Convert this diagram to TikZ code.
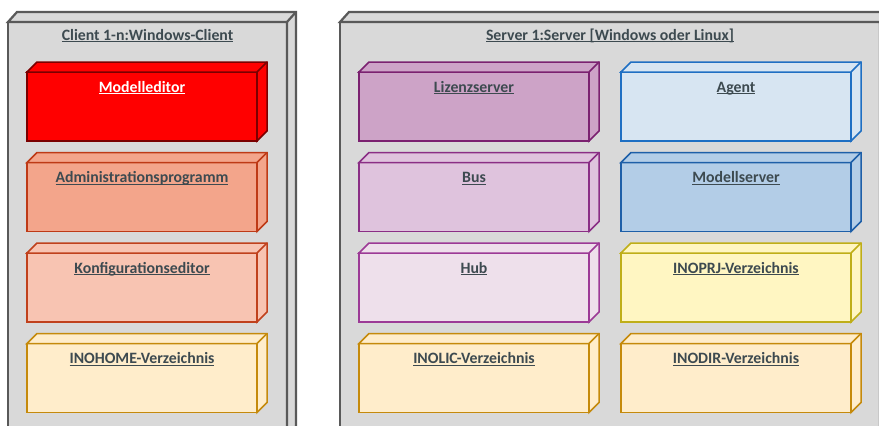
\documentclass[tikz,border=0pt]{standalone}
\usepackage{fontspec}
\setmainfont{Carlito}
\usetikzlibrary{calc}
\definecolor{outerfill}{HTML}{D9D9D9}
\definecolor{outerdraw}{HTML}{595959}
\definecolor{txt}{HTML}{3D4A50}
\definecolor{redfill}{HTML}{FF0000}
\definecolor{reddraw}{HTML}{7A0000}
\definecolor{admfill}{HTML}{F3A58B}
\definecolor{admdraw}{HTML}{BE3A16}
\definecolor{konffill}{HTML}{F8C4B2}
\definecolor{konfdraw}{HTML}{C0411C}
\definecolor{dirfill}{HTML}{FFEDCB}
\definecolor{dirdraw}{HTML}{C58A0C}
\definecolor{lizfill}{HTML}{CDA3C7}
\definecolor{lizdraw}{HTML}{7B2170}
\definecolor{busfill}{HTML}{DFC3DD}
\definecolor{busdraw}{HTML}{8A2E85}
\definecolor{hubfill}{HTML}{EEE0EB}
\definecolor{hubdraw}{HTML}{9C3A96}
\definecolor{agfill}{HTML}{D7E5F2}
\definecolor{agdraw}{HTML}{1F6FC3}
\definecolor{msfill}{HTML}{B3CDE7}
\definecolor{msdraw}{HTML}{1E5FA8}
\definecolor{prjfill}{HTML}{FFF6C2}
\definecolor{prjdraw}{HTML}{BFAE18}
\newcommand{\ulbox}[1]{\setbox0=\hbox{#1}\rlap{\rule[-2.4pt]{\wd0}{1.1pt}}\box0}
\tikzset{
  face/.style={rectangle, inner sep=0pt, outer sep=0pt, line width=1.5pt, line join=miter},
  lbl/.style={anchor=base, inner sep=0pt, font=\fontsize{15.8}{18}\selectfont\bfseries},
  outerface/.style={rectangle, inner sep=0pt, outer sep=0pt, line width=2.2pt, draw=outerdraw, fill=outerfill},
}
% name, x, ytop, fill, draw, label, textcolor
\newcommand{\dbox}[7]{%
  \node[face, fill=#4, draw=#5, minimum width=230pt, minimum height=69pt, anchor=north west] (#1) at (#2,#3) {};
  \filldraw[fill=#4, draw=#5, line width=1.5pt, line join=miter] (#1.north west) -- ++(10pt,10pt) -- ++(230pt,0pt) -- ++(0pt,-69pt) -- ++(-10pt,-10pt) -- (#1.north east) -- cycle;
  \draw[#5, line width=1.5pt] (#1.north east) -- ++(10pt,10pt);
  \node[lbl, text=#7] (#1-t) at ([yshift=-20pt]#1.north) {\ulbox{#6}};
}
\begin{document}
\begin{tikzpicture}[x=1pt,y=-1pt]
\useasboundingbox (0,0) rectangle (879,426);
\fill[white] (0,0) rectangle (879,426);
% client outer
\node[outerface, minimum width=279pt, minimum height=414pt, anchor=north west] (client) at (8,22) {};
\filldraw[fill=outerfill, draw=outerdraw, line width=2.2pt] (client.north west) -- ++(9pt,10pt) -- ++(279pt,0pt) -- ++(0pt,-414pt) -- ++(-9pt,-10pt) -- (client.north east) -- cycle;
\draw[outerdraw, line width=2.2pt] (client.north east) -- ++(9pt,10pt);
\node[lbl, text=txt] (client-t) at ([yshift=-18pt]client.north) {\ulbox{Client 1-n:Windows-Client}};
% server outer
\node[outerface, minimum width=540pt, minimum height=414pt, anchor=north west] (server) at (340,22) {};
\filldraw[fill=outerfill, draw=outerdraw, line width=2.2pt] (server.north west) -- ++(9pt,10pt) -- ++(540pt,0pt) -- ++(0pt,-414pt) -- ++(-9pt,-10pt) -- (server.north east) -- cycle;
\draw[outerdraw, line width=2.2pt] (server.north east) -- ++(9pt,10pt);
\node[lbl, text=txt] (server-t) at ([yshift=-18pt]server.north) {\ulbox{Server 1:Server [Windows oder Linux]}};
% client boxes
\dbox{me}{27}{72}{redfill}{reddraw}{Modelleditor}{white}
\dbox{adm}{27}{162.5}{admfill}{admdraw}{Administrationsprogramm}{txt}
\dbox{konf}{27}{253}{konffill}{konfdraw}{Konfigurationseditor}{txt}
\dbox{home}{27}{343.5}{dirfill}{dirdraw}{INOHOME-Verzeichnis}{txt}
% server column 1
\dbox{liz}{359}{72}{lizfill}{lizdraw}{Lizenzserver}{txt}
\dbox{bus}{359}{162.5}{busfill}{busdraw}{Bus}{txt}
\dbox{hub}{359}{253}{hubfill}{hubdraw}{Hub}{txt}
\dbox{lic}{359}{343.5}{dirfill}{dirdraw}{INOLIC-Verzeichnis}{txt}
% server column 2
\dbox{agent}{621}{72}{agfill}{agdraw}{Agent}{txt}
\dbox{ms}{621}{162.5}{msfill}{msdraw}{Modellserver}{txt}
\dbox{prj}{621}{253}{prjfill}{prjdraw}{INOPRJ-Verzeichnis}{txt}
\dbox{dir}{621}{343.5}{dirfill}{dirdraw}{INODIR-Verzeichnis}{txt}
\end{tikzpicture}
\end{document}
